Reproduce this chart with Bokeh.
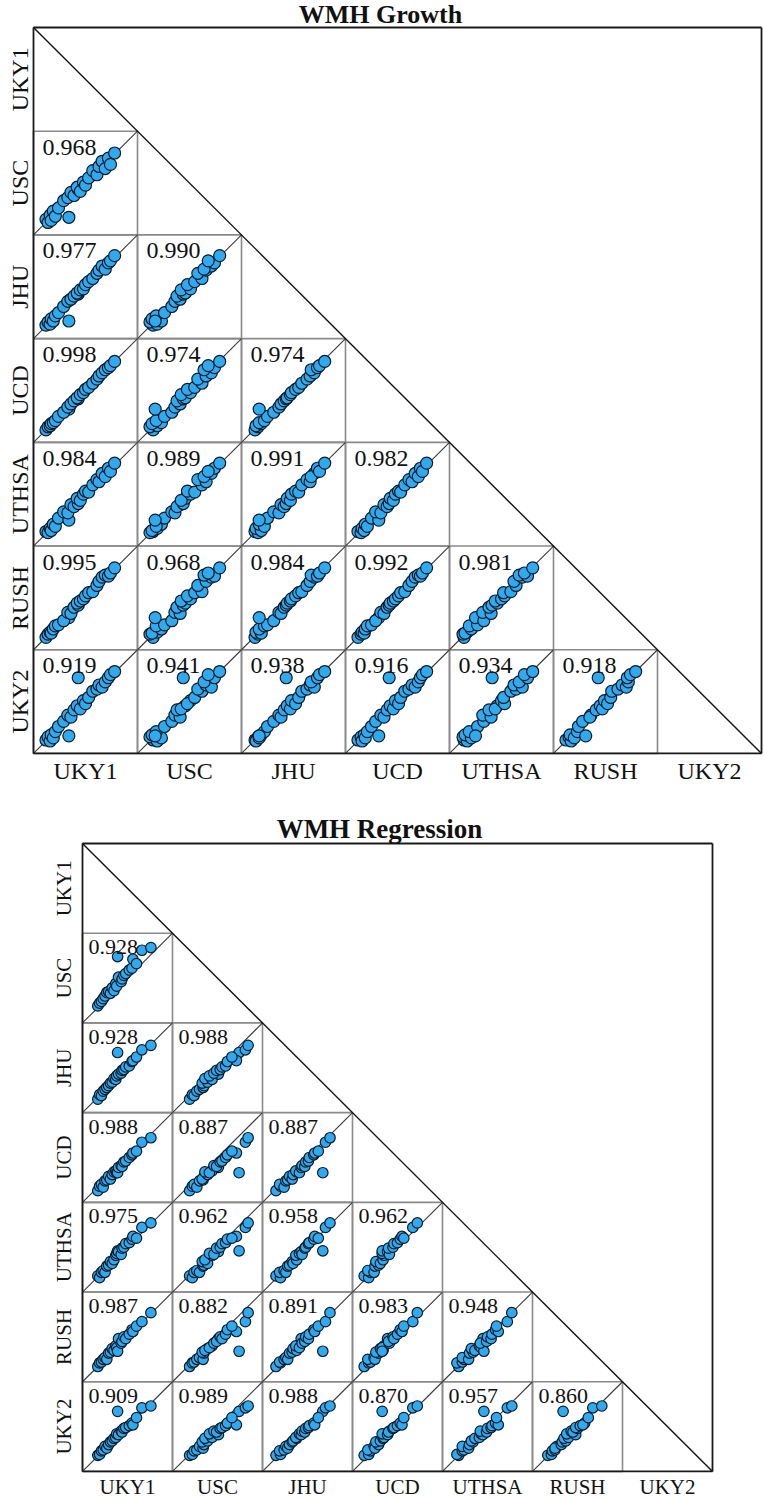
import math
from bokeh.plotting import figure
from bokeh.layouts import column
from bokeh.models import Range1d
from bokeh.core.properties import value
from bokeh.embed import file_html
from bokeh.resources import INLINE

sites = ["UKY1", "USC", "JHU", "UCD", "UTHSA", "RUSH", "UKY2"]

# ---- WMH Growth: per-site values (position within each cell, 0..1) ----
growth_uky1  = [0.12, 0.14, 0.16, 0.17, 0.19, 0.21, 0.24, 0.34, 0.29, 0.33, 0.36, 0.39, 0.43, 0.42, 0.45, 0.48, 0.50, 0.53, 0.57, 0.61, 0.63, 0.66, 0.69, 0.72, 0.74, 0.78]
growth_usc   = [0.15, 0.12, 0.19, 0.14, 0.23, 0.18, 0.26, 0.17, 0.33, 0.36, 0.41, 0.38, 0.44, 0.46, 0.42, 0.51, 0.48, 0.55, 0.62, 0.58, 0.66, 0.71, 0.64, 0.74, 0.68, 0.79]
growth_jhu   = [0.13, 0.16, 0.14, 0.19, 0.17, 0.22, 0.25, 0.17, 0.31, 0.36, 0.38, 0.41, 0.43, 0.44, 0.47, 0.48, 0.52, 0.55, 0.58, 0.63, 0.66, 0.70, 0.67, 0.73, 0.75, 0.80]
growth_ucd   = [0.12, 0.15, 0.16, 0.18, 0.19, 0.21, 0.25, 0.32, 0.29, 0.34, 0.37, 0.40, 0.42, 0.43, 0.46, 0.48, 0.51, 0.53, 0.57, 0.61, 0.64, 0.67, 0.70, 0.72, 0.74, 0.78]
growth_uthsa = [0.14, 0.13, 0.17, 0.15, 0.21, 0.19, 0.27, 0.25, 0.33, 0.32, 0.40, 0.38, 0.41, 0.46, 0.44, 0.50, 0.53, 0.52, 0.59, 0.64, 0.62, 0.70, 0.67, 0.75, 0.72, 0.80]
growth_rush  = [0.12, 0.15, 0.17, 0.16, 0.20, 0.23, 0.24, 0.31, 0.28, 0.36, 0.35, 0.41, 0.43, 0.45, 0.47, 0.49, 0.52, 0.55, 0.56, 0.62, 0.66, 0.70, 0.72, 0.71, 0.74, 0.79]
growth_uky2  = [0.13, 0.16, 0.12, 0.18, 0.15, 0.21, 0.26, 0.17, 0.31, 0.37, 0.35, 0.42, 0.73, 0.46, 0.43, 0.51, 0.48, 0.54, 0.60, 0.62, 0.66, 0.64, 0.69, 0.73, 0.76, 0.79]
growth_data = [growth_uky1, growth_usc, growth_jhu, growth_ucd, growth_uthsa, growth_rush, growth_uky2]

growth_r = [
    [],
    ["0.968"],
    ["0.977", "0.990"],
    ["0.998", "0.974", "0.974"],
    ["0.984", "0.989", "0.991", "0.982"],
    ["0.995", "0.968", "0.984", "0.992", "0.981"],
    ["0.919", "0.941", "0.938", "0.916", "0.934", "0.918"],
]

# ---- WMH Regression ----
reg_uky1  = [0.17, 0.19, 0.21, 0.23, 0.25, 0.27, 0.29, 0.31, 0.33, 0.35, 0.37, 0.38, 0.39, 0.40, 0.43, 0.44, 0.46, 0.48, 0.52, 0.55, 0.56, 0.60, 0.66, 0.76]
reg_usc   = [0.19, 0.22, 0.24, 0.27, 0.30, 0.34, 0.35, 0.33, 0.39, 0.36, 0.44, 0.41, 0.74, 0.51, 0.46, 0.49, 0.53, 0.55, 0.59, 0.61, 0.71, 0.66, 0.81, 0.84]
reg_jhu   = [0.15, 0.20, 0.19, 0.24, 0.26, 0.28, 0.30, 0.33, 0.34, 0.38, 0.37, 0.41, 0.67, 0.43, 0.44, 0.47, 0.48, 0.51, 0.52, 0.57, 0.58, 0.62, 0.70, 0.75]
reg_ucd   = [0.13, 0.18, 0.20, 0.17, 0.24, 0.25, 0.29, 0.26, 0.31, 0.34, 0.35, 0.33, 0.33, 0.39, 0.41, 0.40, 0.45, 0.46, 0.50, 0.53, 0.55, 0.57, 0.67, 0.72]
reg_uthsa = [0.18, 0.16, 0.22, 0.24, 0.22, 0.29, 0.30, 0.34, 0.32, 0.36, 0.41, 0.43, 0.46, 0.45, 0.42, 0.49, 0.50, 0.54, 0.55, 0.59, 0.62, 0.60, 0.72, 0.77]
reg_rush  = [0.17, 0.21, 0.22, 0.25, 0.27, 0.25, 0.32, 0.33, 0.37, 0.35, 0.40, 0.38, 0.34, 0.48, 0.43, 0.45, 0.50, 0.48, 0.53, 0.58, 0.56, 0.62, 0.67, 0.77]
reg_uky2  = [0.18, 0.19, 0.23, 0.24, 0.28, 0.26, 0.30, 0.33, 0.34, 0.37, 0.38, 0.42, 0.67, 0.41, 0.45, 0.44, 0.48, 0.49, 0.51, 0.54, 0.52, 0.60, 0.71, 0.73]
reg_data = [reg_uky1, reg_usc, reg_jhu, reg_ucd, reg_uthsa, reg_rush, reg_uky2]

reg_r = [
    [],
    ["0.928"],
    ["0.928", "0.988"],
    ["0.988", "0.887", "0.887"],
    ["0.975", "0.962", "0.958", "0.962"],
    ["0.987", "0.882", "0.891", "0.983", "0.948"],
    ["0.909", "0.989", "0.988", "0.870", "0.957", "0.860"],
]

FONT = value("Liberation Serif")
N = len(sites)


def panel(title, data, rvals, width, height, left_px, top_px, cell_w, cell_h,
          pt_size, r_font, r_dx, r_dy, lab_font, xlab_dy, ylab_dx,
          title_font, title_x_px, title_dy):
    x0 = -left_px / cell_w
    x1 = (width - left_px) / cell_w
    y1 = N + top_px / cell_h
    y0 = N - (height - top_px) / cell_h
    p = figure(width=width, height=height, output_backend="svg",
               toolbar_location=None, x_axis_type=None, y_axis_type=None,
               x_range=Range1d(x0, x1), y_range=Range1d(y0, y1),
               min_border=0, outline_line_color=None)
    p.xgrid.visible = False
    p.ygrid.visible = False

    # cells
    L, R, B, T = [], [], [], []
    dx0, dy0, dx1, dy1 = [], [], [], []
    for i in range(1, N):
        for j in range(i):
            L.append(j); R.append(j + 1); B.append(N - 1 - i); T.append(N - i)
            dx0.append(j); dy0.append(N - 1 - i); dx1.append(j + 1); dy1.append(N - i)
    p.quad(left=L, right=R, bottom=B, top=T, fill_color=None,
           line_color="#8a8a8a", line_width=1.6)
    p.segment(x0=dx0, y0=dy0, x1=dx1, y1=dy1, line_color="#3a3a3a", line_width=1.1)

    # outer frame and big diagonal
    p.segment(x0=[0, N, 0, 0], y0=[N, N, N, 0], x1=[N, N, 0, N], y1=[N, 0, 0, 0],
              line_color="#1a1a1a", line_width=1.8)
    p.segment(x0=[0], y0=[N], x1=[N], y1=[0], line_color="#111111", line_width=1.4)

    # points
    xs, ys = [], []
    for i in range(1, N):
        for j in range(i):
            for vx, vy in zip(data[j], data[i]):
                xs.append(j + vx)
                ys.append(N - 1 - i + vy)
    p.scatter(xs, ys, size=pt_size, fill_color="#30aaee", line_color="#0d1a2a",
              line_width=1.2)

    # correlation labels
    tx, ty, tt = [], [], []
    for i in range(1, N):
        for j in range(i):
            tx.append(j + r_dx / cell_w)
            ty.append(N - i - r_dy / cell_h)
            tt.append(rvals[i][j])
    p.text(tx, ty, text=tt, text_font=FONT, text_font_size=value(r_font),
           text_align="left", text_baseline="middle", text_color="#111111")

    # site labels
    p.text([j + 0.5 for j in range(N)], [-xlab_dy / cell_h] * N, text=sites,
           text_font=FONT, text_font_size=value(lab_font), text_align="center",
           text_baseline="middle", text_color="#111111")
    p.text([-ylab_dx / cell_w] * N, [N - 0.5 - i for i in range(N)], text=sites,
           angle=math.pi / 2, text_font=FONT, text_font_size=value(lab_font),
           text_align="center", text_baseline="middle", text_color="#111111")

    # title
    p.text([(title_x_px - left_px) / cell_w], [N + title_dy / cell_h], text=[title],
           text_font=FONT, text_font_size=value(title_font), text_font_style="bold",
           text_align="center", text_baseline="middle", text_color="#111111")
    return p


p1 = panel("WMH Growth", growth_data, growth_r, width=764, height=790,
           left_px=33, top_px=27, cell_w=104, cell_h=103.71, pt_size=12,
           r_font="24px", r_dx=9, r_dy=16, lab_font="24px", xlab_dy=18, ylab_dx=14,
           title_font="26px", title_x_px=380, title_dy=13)
p2 = panel("WMH Regression", reg_data, reg_r, width=764, height=710,
           left_px=82, top_px=53, cell_w=90, cell_h=89.71, pt_size=10.5,
           r_font="22px", r_dx=6, r_dy=14, lab_font="21px", xlab_dy=16, ylab_dx=19,
           title_font="27px", title_x_px=379, title_dy=15)

layout = column(p1, p2, spacing=0)
open("out.html", "w").write(file_html(layout, INLINE))
